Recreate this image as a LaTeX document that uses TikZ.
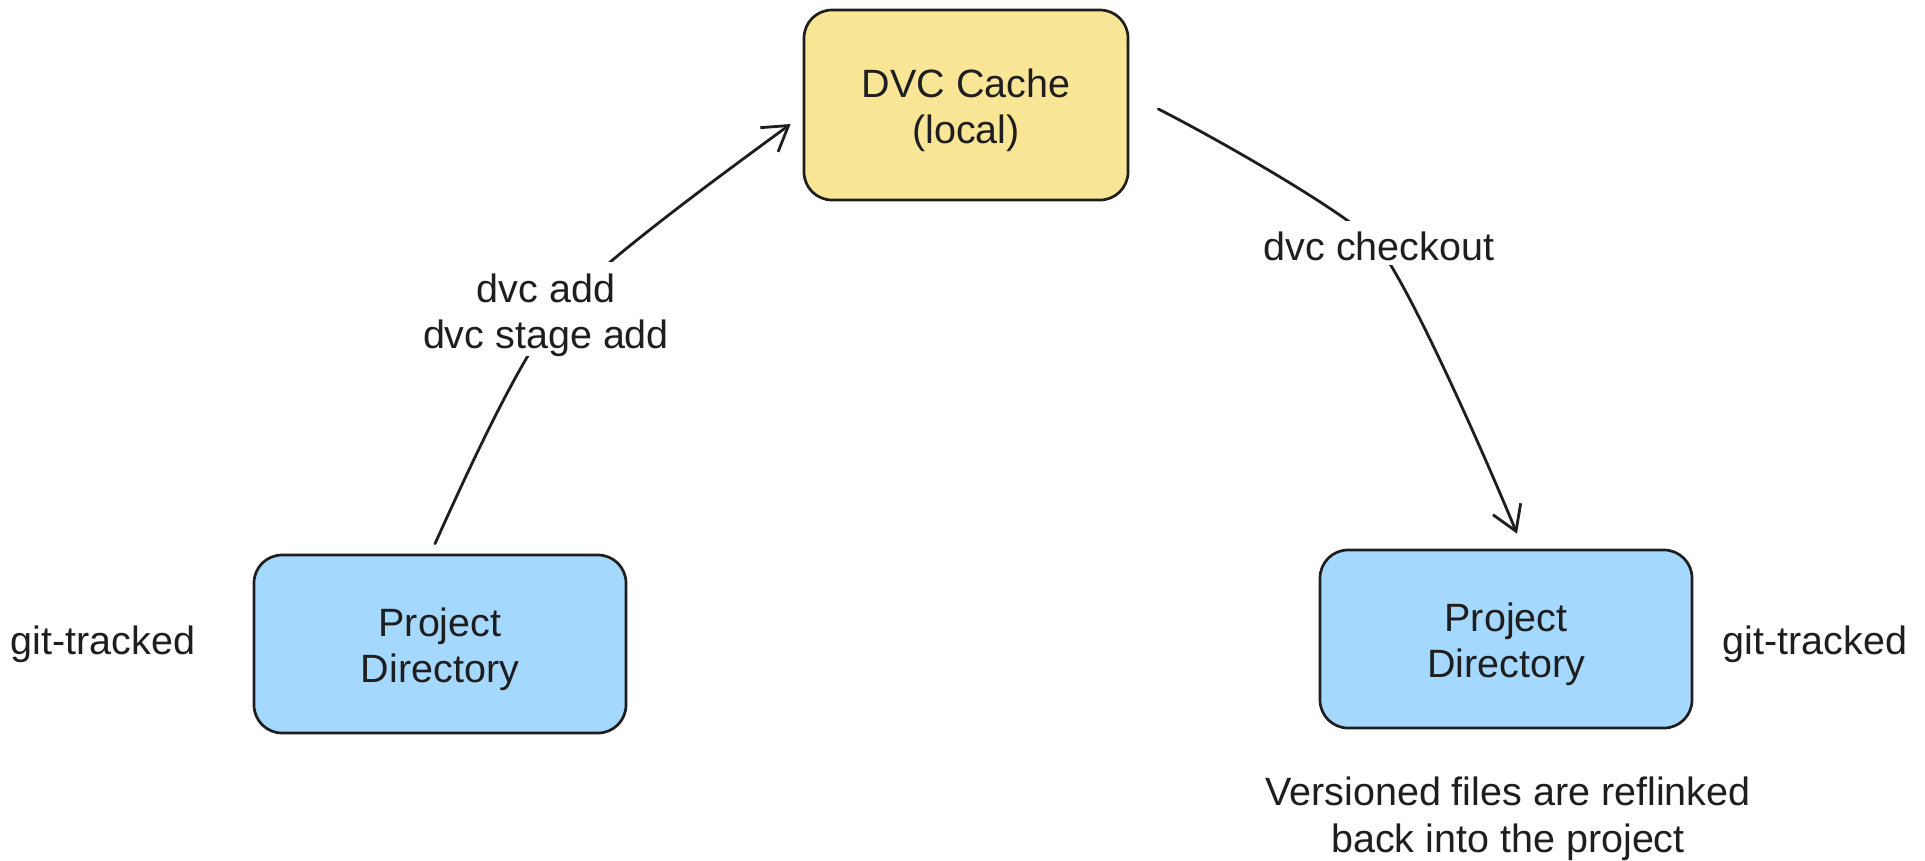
\documentclass[tikz,border=0pt]{standalone}
\usepackage{fontspec}
\setmainfont{Liberation Sans}
\usetikzlibrary{arrows.meta}
\definecolor{ink}{HTML}{1E1E1E}
\definecolor{cachefill}{HTML}{F9E596}
\definecolor{dirfill}{HTML}{A5D8FF}
\newcommand{\boxtext}[2][6pt]{\raisebox{-#1}[\height][\depth]{\begin{tabular}{@{}c@{}}#2\end{tabular}}}
\begin{document}
\begin{tikzpicture}[x=1pt,y=-1pt,
  txt/.style={font=\fontsize{39.5}{46.5}\selectfont, text=ink, align=center, inner sep=0pt},
  box/.style={txt, draw=ink, line width=2.7pt, rounded corners=28pt},
  cachebox/.style={box, fill=cachefill, minimum width=324pt, minimum height=190pt},
  dirbox/.style={box, fill=dirfill, minimum width=372pt, minimum height=178pt},
  lbl/.style={txt, fill=white, inner xsep=4pt, inner ysep=0.5pt},
  arr/.style={draw=ink, line width=2.8pt, line cap=round, -{Straight Barb[length=24pt,width=30pt]}}]
\fill[white] (0,0) rectangle (1925,860);
\useasboundingbox (0,0) rectangle (1925,860);

\node[cachebox] (cache) at (966,105) {\boxtext{DVC Cache\\(local)}};
\node[dirbox] (left) at (440,644) {\boxtext{Project\\Directory}};
\node[dirbox] (right) at (1506,639) {\boxtext{Project\\Directory}};
\node[txt] (gitl) at (103,644) {git-tracked};
\node[txt] (gitr) at (1815,644) {git-tracked};
\node[txt] (note) at (1508,819) {Versioned files are reflinked\\back into the project};

\draw[arr] ([xshift=-5pt,yshift=10pt]left.north) .. controls (463,482) and (520,355) .. (560,309)
  .. controls (600,263) and (728,170) .. ([xshift=-12pt,yshift=-19pt]cache.west);
\draw[arr] ([xshift=29pt,yshift=-4pt]cache.east) .. controls (1227,144) and (1351,216) .. (1376,244)
  .. controls (1406,278) and (1482,449) .. ([xshift=11pt,yshift=15pt]right.north);

\node[lbl] (addlbl) at (546,309) {\boxtext[7pt]{dvc add\\dvc stage add}};
\node[lbl, text height=39pt, text depth=5pt, inner ysep=0pt] (colbl) at (1379,243) {dvc checkout};
\end{tikzpicture}
\end{document}
